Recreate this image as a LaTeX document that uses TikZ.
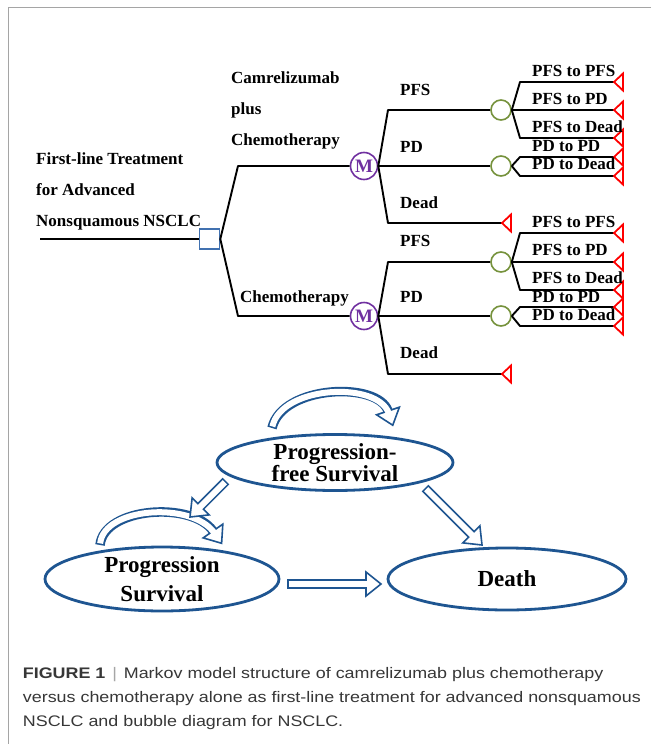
\documentclass[tikz,border=0pt]{standalone}
\usepackage{fontspec}
\setmainfont{Liberation Serif}
\newfontfamily\capfont[FakeStretch=1.17]{Liberation Sans}
\usetikzlibrary{calc,shapes.geometric}
\definecolor{sqblue}{RGB}{65,113,176}
\definecolor{mpurple}{RGB}{112,48,160}
\definecolor{cgreen}{RGB}{118,146,60}
\definecolor{tred}{RGB}{255,0,0}
\definecolor{ellblue}{RGB}{30,85,145}
\definecolor{capgray}{RGB}{55,55,55}
\definecolor{framegray}{RGB}{165,165,165}
\newcommand{\hollowhead}[2]{%
  \filldraw[ellblue, fill=white, line width=1.6pt, line join=miter]
    ($(#1)!12pt!90:(#2)$) -- ($(#1)!-15pt!(#2)$) -- ($(#1)!12pt!-90:(#2)$) -- cycle;}
\begin{document}
\begin{tikzpicture}[x=1pt,y=-1pt,
  lbl/.style={font=\fontsize{17}{17}\selectfont\bfseries, inner sep=0pt, anchor=base west},
  branch/.style={line width=1.9pt, black, line join=bevel},
  decision/.style={rectangle, draw=sqblue, line width=1.6pt, minimum width=20pt, minimum height=20pt, inner sep=0pt, fill=white},
  markov/.style={circle, draw=mpurple, line width=1.6pt, minimum size=27pt, inner sep=0pt, fill=white, text=mpurple, font=\fontsize{19}{19}\selectfont\bfseries},
  chance/.style={circle, draw=cgreen, line width=1.6pt, minimum size=20pt, inner sep=0pt, fill=white},
  termtri/.pic={\draw[tred, line width=1.8pt, line join=miter] (0,0) -- (9,-8.5) -- (9,8.5) -- cycle;},
  bandout/.style={line width=9.5pt, ellblue},
  bandin/.style={line width=6pt, white, shorten <=1.6pt, shorten >=-2.5pt},
  state/.style={ellipse, draw=ellblue, line width=2.8pt, fill=white, inner sep=0pt, font=\fontsize{23}{20}\selectfont\bfseries, align=center},
  captext/.style={anchor=base west, inner sep=0pt, font=\capfont\fontsize{15.3}{15.3}\selectfont, text=capgray}
]
\useasboundingbox (0,0) rectangle (651,744);
\fill[white] (0,0) rectangle (651,744);
\draw[framegray, line width=1.5pt] (651,7.5) -- (8.5,7.5) -- (8.5,744);

% ---------- decision tree ----------
\coordinate (root) at (40,239);
\node[decision] (D) at (209.5,239) {};
\node[markov] (M1) at (364,166) {M};
\node[markov] (M2) at (364,316) {M};
\node[chance] (C1) at (501,110) {};
\node[chance] (C2) at (501,166) {};
\node[chance] (C3) at (501,262) {};
\node[chance] (C4) at (501,316) {};
\coordinate (T1) at (502,223);
\coordinate (T2) at (502,374);
\coordinate (L1) at (614,82);
\coordinate (L2) at (614,110);
\coordinate (L3) at (614,138);
\coordinate (L4) at (614,157);
\coordinate (L5) at (614,176);
\coordinate (L6) at (614,233);
\coordinate (L7) at (614,262);
\coordinate (L8) at (614,290);
\coordinate (L9) at (614,307);
\coordinate (L10) at (614,326);

\draw[branch] (root) -- (D.west);
\draw[branch] (D.east) -- (238,166) -- (M1.west);
\draw[branch] (D.east) -- (238,316) -- (M2.west);

\draw[branch] (M1.east) -- (388,110) -- (C1.west);
\draw[branch] (M1.east) -- (C2.west);
\draw[branch] (M1.east) -- (388,223) -- (T1);
\draw[branch] (M2.east) -- (388,262) -- (C3.west);
\draw[branch] (M2.east) -- (C4.west);
\draw[branch] (M2.east) -- (388,374) -- (T2);

\draw[branch] (C1.east) -- (520,82) -- (L1);
\draw[branch] (C1.east) -- (L2);
\draw[branch] (C1.east) -- (520,138) -- (L3);
\draw[branch] (C2.east) -- (520,157) -- (L4);
\draw[branch] (C2.east) -- (520,176) -- (L5);
\draw[branch] (C3.east) -- (520,233) -- (L6);
\draw[branch] (C3.east) -- (L7);
\draw[branch] (C3.east) -- (520,290) -- (L8);
\draw[branch] (C4.east) -- (520,307) -- (L9);
\draw[branch] (C4.east) -- (520,326) -- (L10);

\foreach \t in {T1,T2,L1,L2,L3,L4,L5,L6,L7,L8,L9,L10} {\pic at (\t) {termtri};}

% labels
\node[lbl] (t1) at (36,164) {First-line Treatment};
\node[lbl] (t2) at (36,195) {for Advanced};
\node[lbl] (t3) at (36,226) {Nonsquamous NSCLC};
\node[lbl] (a1) at (231,83) {Camrelizumab};
\node[lbl] (a2) at (231,114) {plus};
\node[lbl] (a3) at (231,145) {Chemotherapy};
\node[lbl] (b1) at (240,302) {Chemotherapy};

\node[lbl] (p1) at (400,95) {PFS};
\node[lbl] (p2) at (400,152) {PD};
\node[lbl] (p3) at (400,208) {Dead};
\node[lbl] (q1) at (400,246) {PFS};
\node[lbl] (q2) at (400,302) {PD};
\node[lbl] (q3) at (400,358) {Dead};

\node[lbl] (r1) at (532,76) {PFS to PFS};
\node[lbl] (r2) at (532,104) {PFS to PD};
\node[lbl] (r3) at (532,132) {PFS to Dead};
\node[lbl] (r4) at (532,151) {PD to PD};
\node[lbl] (r5) at (532,169) {PD to Dead};
\node[lbl] (s1) at (532,227) {PFS to PFS};
\node[lbl] (s2) at (532,255) {PFS to PD};
\node[lbl] (s3) at (532,283) {PFS to Dead};
\node[lbl] (s4) at (532,302) {PD to PD};
\node[lbl] (s5) at (532,320) {PD to Dead};

% ---------- bubble diagram ----------
\node[state, minimum width=236pt, minimum height=56pt] (pfs) at (335,462.5) {Progression-\\free Survival};
\node[state, minimum width=234pt, minimum height=62pt, font=\fontsize{23}{29}\selectfont\bfseries] (ps) at (162,579) {Progression\\Survival};
\node[state, minimum width=238pt, minimum height=62pt] (death) at (507,579) {Death};

% self loop on PFS
\coordinate (l1s) at (272,428);
\coordinate (l1a) at (282,385);
\coordinate (l1b) at (378,381);
\coordinate (l1e) at (388,411);
\draw[bandout] (l1s) .. controls (l1a) and (l1b) .. (l1e);
\hollowhead{l1e}{l1b}
\draw[bandin] (l1s) .. controls (l1a) and (l1b) .. (l1e);

% self loop on PS
\coordinate (l2s) at (100,545);
\coordinate (l2a) at (104,507);
\coordinate (l2b) at (192,501);
\coordinate (l2e) at (213,531);
\draw[bandout] (l2s) .. controls (l2a) and (l2b) .. (l2e);
\hollowhead{l2e}{l2b}
\draw[bandin] (l2s) .. controls (l2a) and (l2b) .. (l2e);

% PFS -> PS
\coordinate (a1s) at (226,481);
\coordinate (a1t) at (190,517);
\coordinate (a1e) at ($(a1t)!15pt!(a1s)$);
\draw[bandout] (a1s) -- (a1e);
\hollowhead{a1e}{a1s}
\draw[bandin] (a1s) -- (a1e);

% PFS -> Death
\coordinate (a2s) at (425,488);
\coordinate (a2t) at (482,545);
\coordinate (a2e) at ($(a2t)!15pt!(a2s)$);
\draw[bandout] (a2s) -- (a2e);
\hollowhead{a2e}{a2s}
\draw[bandin] (a2s) -- (a2e);

% PS -> Death
\coordinate (a3s) at (287,584);
\coordinate (a3t) at (381,584);
\coordinate (a3e) at ($(a3t)!15pt!(a3s)$);
\draw[bandout] (a3s) -- (a3e);
\hollowhead{a3e}{a3s}
\draw[bandin] (a3s) -- (a3e);

% ---------- caption ----------
\node[captext] (cap1) at (22.7,678) {\textbf{FIGURE 1}\hspace{0.45em}\textcolor{gray!70}{|}\hspace{0.45em}Markov model structure of camrelizumab plus chemotherapy};
\node[captext] (cap2) at (22.7,702) {versus chemotherapy alone as first-line treatment for advanced nonsquamous};
\node[captext] (cap3) at (22.7,726) {NSCLC and bubble diagram for NSCLC.};
\end{tikzpicture}
\end{document}
